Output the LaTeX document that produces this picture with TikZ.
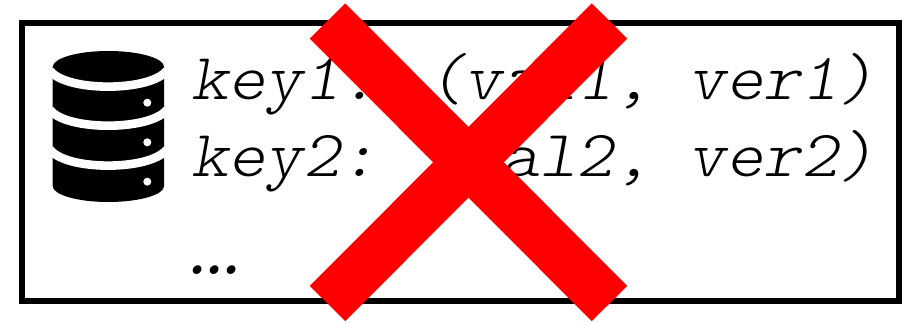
\documentclass[tikz,border=0pt]{standalone}
\usepackage{fontspec}
\newfontfamily\rowfont[Extension=.otf,FakeStretch=1.078]{lmmonolt10-oblique}
\newfontfamily\dotsfont[Extension=.otf,LetterSpace=-28.2]{lmmonoslant10-regular}
\tikzset{
  frame/.style={draw=black,line width=6.2pt,fill=white},
  rowtext/.style={anchor=base west,inner sep=0pt,outer sep=0pt,font=\rowfont\fontsize{66}{70}\selectfont},
  dotstext/.style={anchor=base west,inner sep=0pt,outer sep=0pt,font=\dotsfont\fontsize{70}{75}\selectfont},
  crossbar/.style={draw={rgb,255:red,255;green,0;blue,0},line width=50pt},
  gap/.style={draw=white,line width=8.6pt},
}
\begin{document}
\begin{tikzpicture}[x=1pt,y=1pt]
\useasboundingbox (0,0) rectangle (915,323);
\fill[white] (0,0) rectangle (915,323);
\draw[frame] (22.3,323-23) rectangle (898.7,323-301.3);
% database icon
\fill[black] (52.7,323-67) -- (52.7,323-186) arc[start angle=180,end angle=360,x radius=55.7pt,y radius=16pt] -- (164.1,323-67) arc[start angle=0,end angle=180,x radius=55.7pt,y radius=16pt] -- cycle;
\draw[gap] (50,323-70.6) .. controls (66,323-92) and (150,323-92) .. (166.8,323-70.6);
\draw[gap] (50,323-109.8) .. controls (66,323-131) and (150,323-131) .. (166.8,323-109.8);
\draw[gap] (50,323-149.5) .. controls (66,323-171) and (150,323-171) .. (166.8,323-149.5);
\fill[white] (147.3,323-102.7) circle[radius=4pt];
\fill[white] (147.3,323-142.3) circle[radius=4pt];
\fill[white] (147.3,323-181.7) circle[radius=4pt];
% text
\node[rowtext] (row1) at (191,323-100) {key1: (val1, ver1)};
\node[rowtext] (row2) at (191,323-177) {key2: (val2, ver2)};
\node[dotstext] (row3) at (178,323-274.5) {...};
% cross
\draw[crossbar] (327.5,323-21) -- (609.5,323-303.5);
\draw[crossbar] (609.5,323-21) -- (327.5,323-303.5);
\end{tikzpicture}
\end{document}
